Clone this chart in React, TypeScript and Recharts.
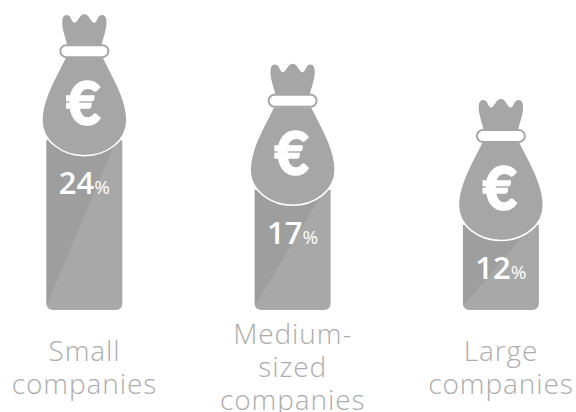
import { BarChart, Bar, XAxis, YAxis, LabelList } from 'recharts';

const categories = ['Small companies', 'Medium-sized companies', 'Large companies'];
const shares = [24, 17, 12];
const tickLines = [
  ['Small', 'companies'],
  ['Medium-', 'sized', 'companies'],
  ['Large', 'companies'],
];

const chartData = categories.map((name, i) => ({ name, share: shares[i] }));

const BAG = '#a6a6a6';
const BAR_DARK = '#9e9e9e';
const BAR_LIGHT = '#a8a8a8';
const FONT = '"Open Sans", Lato, sans-serif';

// bar with the money bag sitting on top of it
const BagBar = ({ x, y, width, height }: any) => {
  const cx = x + width / 2;
  const bottom = y + height;
  const r = 7;
  const outline = `M${x} ${y} H${x + width} V${bottom - r} Q${x + width} ${bottom} ${x + width - r} ${bottom} H${x + r} Q${x} ${bottom} ${x} ${bottom - r} Z`;
  const clipId = `bar-clip-${Math.round(x)}`;
  return (
    <g>
      <clipPath id={clipId}>
        <path d={outline} />
      </clipPath>
      <path d={outline} fill={BAR_LIGHT} />
      {/* darker diagonal in the upper left of the bar */}
      <path
        d={`M${x} ${y} H${x + width - 6} L${x} ${bottom - 4} Z`}
        fill={BAR_DARK}
        clipPath={`url(#${clipId})`}
      />
      <g transform={`translate(${cx} ${y - 126})`}>
        <path
          d="M-17 32 C-19 22 -23 14 -22 6 C-22 1 -17 -1 -14 3 C-12.5 6 -11.5 9 -9.5 8.5 C-6 7.5 -5 0 0 0 C5 0 6 7.5 9.5 8.5 C11.5 9 12.5 6 14 3 C17 -1 22 1 22 6 C23 14 19 22 17 32 Z"
          fill={BAG}
        />
        <path
          d="M-19 43 C-26 58 -42.5 84 -42.5 106 C-42.5 127 -22 141.5 0 141.5 C22 141.5 42.5 127 42.5 106 C42.5 84 26 58 19 43 Z"
          fill={BAG}
          stroke="#fff"
          strokeWidth={1.5}
        />
        <rect x={-24} y={31} width={48} height={12} rx={6} fill="#fff" stroke={BAG} strokeWidth={2} />
        <text
          x={-1}
          y={111}
          textAnchor="middle"
          fill="#fff"
          stroke="#fff"
          strokeWidth={1.5}
          fontFamily="Lato, sans-serif"
          fontWeight={900}
          fontSize={60}
        >
          €
        </text>
      </g>
    </g>
  );
};

const ShareLabel = ({ x, y, width, value }: any) => (
  <text
    x={x + width / 2}
    y={y + 54}
    textAnchor="middle"
    fill="#fff"
    fontFamily={FONT}
    fontWeight={600}
    fontSize={31}
  >
    {value}
    <tspan fontSize={19} fontWeight={400}>
      %
    </tspan>
  </text>
);

const CompanyTick = ({ x, payload, index }: any) => {
  const lines = tickLines[index] || [payload.value];
  const lineHeight = 32.7;
  const first = 377 - ((lines.length - 1) * lineHeight) / 2;
  return (
    <text
      textAnchor="middle"
      fill="#adadad"
      fontFamily={FONT}
      fontWeight={300}
      fontSize={28}
      letterSpacing={0.9}
    >
      {lines.map((line: string, i: number) => (
        <tspan key={line} x={x} y={first + i * lineHeight + (lines.length === 2 ? 0.5 : 0)}>
          {line}
        </tspan>
      ))}
    </text>
  );
};

export default function App() {
  return (
    <div style={{ position: 'absolute', left: 0, top: 0 }}>
      <BarChart
        width={576}
        height={412}
        data={chartData}
        margin={{ top: 0, right: 0, bottom: 0, left: 0 }}
        barSize={76}
      >
        <XAxis
          dataKey="name"
          scale="point"
          padding={{ left: 84.5, right: 75 }}
          height={102}
          axisLine={false}
          tickLine={false}
          interval={0}
          tick={<CompanyTick />}
        />
        <YAxis hide domain={[0, 43.8]} />
        <Bar dataKey="share" shape={<BagBar />} isAnimationActive={false}>
          <LabelList dataKey="share" content={<ShareLabel />} />
        </Bar>
      </BarChart>
    </div>
  );
}
